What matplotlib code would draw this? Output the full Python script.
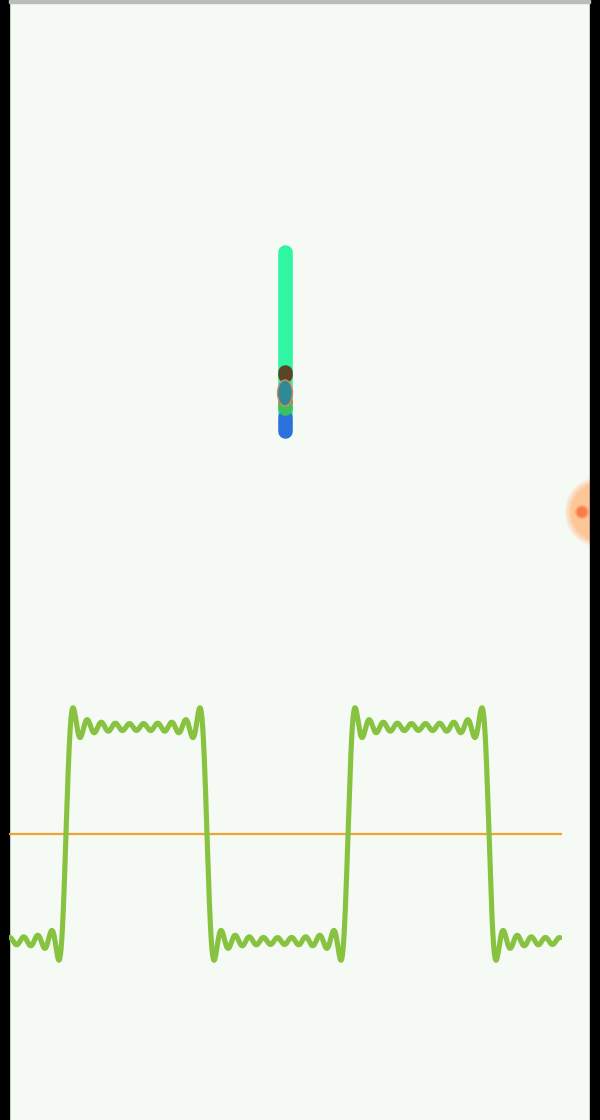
import numpy as np
import matplotlib
matplotlib.use('Agg')
import matplotlib.pyplot as plt
from matplotlib.patches import Rectangle, Circle, Ellipse

# Fourier square wave: odd harmonics and their amplitudes 4/(pi k)
harmonics = [1, 3, 5, 7, 9, 11, 13, 15, 17, 19]
amplitudes = [4 / (np.pi * k) for k in harmonics]

# edge-on epicycles (screen px, centre of round caps): top, bottom, colour
bar_top = [252, 417, 372, 401, 407]
bar_bottom = [413, 431, 375, 402, 408]
bar_colors = ['#30f5a2', '#2b72dc', '#5b4527', '#e2622e', '#3cc25c']

# traced point on the right: glow centre, dot centre
glow_xy = (600, 512)
dot_xy = (582, 512)

BG = '#f6faf4'
W, H = 600, 1120

fig = plt.figure(figsize=(6, 11.2), dpi=100, facecolor=BG)

# full-screen pixel axes
ax = fig.add_axes([0, 0, 1, 1])
ax.set_xlim(0, W)
ax.set_ylim(H, 0)
ax.axis('off')
ax.set_facecolor(BG)

# epicycles, seen edge on
for top, bot, col in zip(bar_top, bar_bottom, bar_colors):
    ax.plot([285, 285], [top, bot], color=col, lw=10.5, solid_capstyle='round', zorder=3)
ax.add_patch(Ellipse((285, 393), 15, 26, facecolor='#2f8a98', edgecolor='#d98a5a', lw=1, zorder=4))

# traced dot with soft glow
for r, a in [(35, 0.25), (33, 0.35), (31, 0.5), (29, 0.8)]:
    ax.add_patch(Circle(glow_xy, r, facecolor='#fdc493', edgecolor='none', alpha=a, zorder=3))
ax.add_patch(Circle(dot_xy, 7, facecolor='#fb8a5a', edgecolor='none', alpha=0.6, zorder=4))
ax.add_patch(Circle(dot_xy, 5, facecolor='#fb7a4c', edgecolor='none', zorder=4))

# screen frame
ax.add_patch(Rectangle((0, 0), 9, H, color='black', zorder=10))
ax.add_patch(Rectangle((590, 0), 10, H, color='black', zorder=10))
ax.add_patch(Rectangle((9, 0), 581, 2.5, color='#b9bdb9', zorder=10))

# wave axes: x in phase (radians), y in amplitude units
x_edge, period_px, center_y, unit_px = 66, 282, 834, 107
left_px, right_px, top_px, bot_px = 9, 562, 690, 980
wax = fig.add_axes([left_px / W, (H - bot_px) / H, (right_px - left_px) / W, (bot_px - top_px) / H])
wax.set_xlim((left_px - x_edge) / period_px * 2 * np.pi, (right_px - x_edge) / period_px * 2 * np.pi)
wax.set_ylim(-(bot_px - center_y) / unit_px, (center_y - top_px) / unit_px)
wax.axis('off')
wax.patch.set_alpha(0)

t = np.linspace((10 - x_edge) / period_px * 2 * np.pi, (560 - x_edge) / period_px * 2 * np.pi, 3000)
y = np.zeros_like(t)
for k, a in zip(harmonics, amplitudes):
    y += a * np.sin(k * t)

wax.axhline(0, color='#eea431', lw=1.6, zorder=2)
wax.plot(t, y, color='#87c340', lw=3.7, solid_capstyle='round', zorder=3)

fig.savefig('out.png', dpi=100, facecolor=BG)
